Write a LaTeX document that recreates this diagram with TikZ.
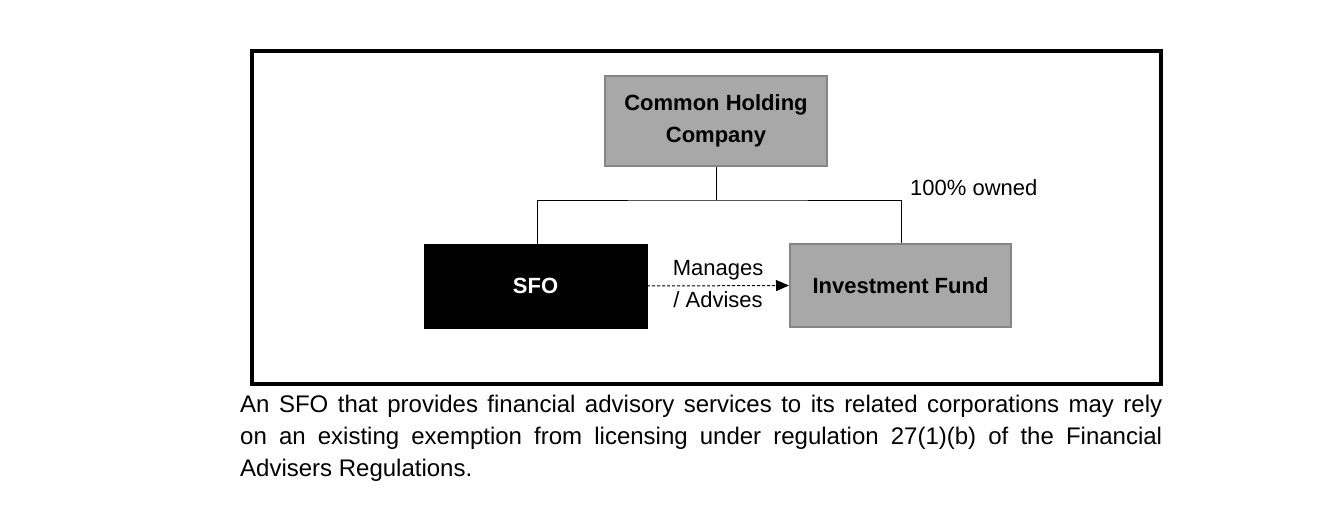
\documentclass[tikz,border=0pt]{standalone}
\usepackage{fontspec}
\setmainfont{Liberation Sans}
\usetikzlibrary{arrows.meta}
\definecolor{boxgray}{HTML}{A8A8A8}
\definecolor{edgegray}{HTML}{858585}
\begin{document}
\begin{tikzpicture}[x=1pt,y=-1pt,
  graybox/.style={draw=edgegray,line width=2pt,fill=boxgray,inner sep=0,align=center,font=\fontsize{22}{32}\selectfont\bfseries},
  blackbox/.style={draw=black,fill=black,inner sep=0,text=white,align=center,font=\fontsize{22}{32}\selectfont\bfseries},
  lbl/.style={inner sep=0,font=\fontsize{22}{30}\selectfont,align=center},
  tree/.style={line width=1pt,black}]
\useasboundingbox (0,0) rectangle (1323,511);
\draw[line width=4pt] (252,51) rectangle (1161,384);
\node[graybox,minimum width=222pt,minimum height=90pt] (chc) at (716,121) {Common Holding\\Company};
\node[blackbox,minimum width=223pt,minimum height=84pt] (sfo) at (535.5,286) {SFO};
\node[graybox,minimum width=221pt,minimum height=83pt] (inv) at (900.5,285.5) {Investment Fund};
\coordinate (j) at (716,200);
\draw[tree] (chc.south) -- (j);
\draw[tree] (sfo.north -| 537,0) |- (j) -| (inv.north -| 901,0);
\node[lbl,anchor=west] (own) at (910,188) {100\% owned};
\draw[line width=1pt,dashed,dash pattern=on 3pt off 2pt,-{Triangle[length=13pt,width=11pt]}] (sfo.east) -- (inv.west)
  node[midway,above=5pt,lbl] (man) {Manages}
  node[midway,below=5pt,lbl] (adv) {/ Advises};
\node[anchor=north west,inner sep=0,text width=922pt,align=justify,font=\fontsize{24}{32}\selectfont] (txt) at (240,394.5)
  {An SFO that provides financial advisory services to its related corporations may rely\linebreak on an existing exemption from licensing under regulation 27(1)(b) of the Financial\linebreak Advisers Regulations.};
\end{tikzpicture}
\end{document}
